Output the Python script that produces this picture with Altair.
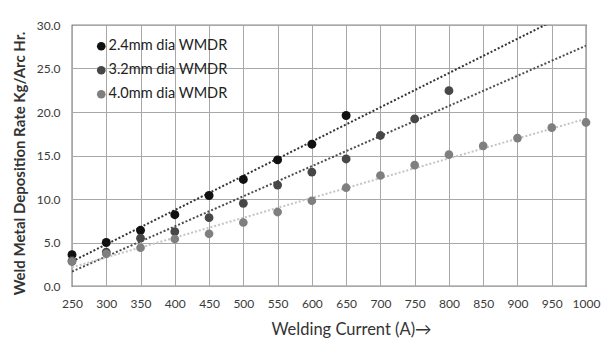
import altair as alt
import pandas as pd

currents_1 = [250, 300, 350, 400, 450, 500, 550, 600, 650]
rates_1 = [3.6, 5.0, 6.4, 8.2, 10.4, 12.25, 14.5, 16.3, 19.6]

currents_2 = [250, 300, 350, 400, 450, 500, 550, 600, 650, 700, 750, 800]
rates_2 = [2.9, 3.9, 5.5, 6.25, 7.85, 9.5, 11.6, 13.1, 14.6, 17.3, 19.2, 22.45]

currents_3 = [250, 300, 350, 400, 450, 500, 550, 600, 650, 700, 750, 800, 850, 900, 950, 1000]
rates_3 = [2.8, 3.7, 4.4, 5.4, 6.0, 7.3, 8.5, 9.8, 11.3, 12.7, 13.9, 15.1, 16.1, 17.0, 18.2, 18.8]

series_names = ["2.4mm dia WMDR", "3.2mm dia WMDR", "4.0mm dia WMDR"]
point_colors = ["#111111", "#474747", "#7f7f7f"]
point_sizes = [80, 75, 45]
trend_colors = ["#333333", "#4d4d4d", "#c4c4c4"]
x_ticks = list(range(250, 1001, 50))
y_ticks = [0, 5, 10, 15, 20, 25, 30]

rows = []
for name, xs, ys in zip(series_names, [currents_1, currents_2, currents_3], [rates_1, rates_2, rates_3]):
    for x, y in zip(xs, ys):
        rows.append({"series": name, "current": x, "rate": y})
df = pd.DataFrame(rows)

FONT = "Lato"
GRID = "#a8a8a8"

x_scale = alt.Scale(domain=[250, 1000], nice=False, zero=False)
y_scale = alt.Scale(domain=[0, 30], nice=False)

x_axis = alt.Axis(values=x_ticks, format="d", title="Welding Current (A)→",
                  ticks=False, labelPadding=12, titlePadding=12,
                  labelOverlap=False, labelFlush=False,
                  domain=False, grid=True, gridColor=GRID, gridOpacity=1,
                  labelFont=FONT, labelFontSize=12, labelColor="#3a3a3a",
                  titleFont=FONT, titleFontSize=16.5, titleFontWeight="normal",
                  titleColor="#333333", titleX=279)
y_axis = alt.Axis(values=y_ticks, format=".1f",
                  title="Weld Metal Deposition Rate Kg/Arc Hr.",
                  ticks=False, labelPadding=12, titlePadding=9,
                  domain=False, grid=True, gridColor=GRID, gridOpacity=1,
                  labelFont=FONT, labelFontSize=12, labelColor="#3a3a3a",
                  titleFont=FONT, titleFontSize=15, titleFontWeight="bold",
                  titleColor="#333333", titleY=138)

x_enc = alt.X("current:Q", scale=x_scale, axis=x_axis)
y_enc = alt.Y("rate:Q", scale=y_scale, axis=y_axis)

base = alt.Chart(df)

trend = base.transform_regression(
    "current", "rate", groupby=["series"], extent=[250, 1000]
).mark_line(clip=True, strokeDash=[2, 2], strokeWidth=2).encode(
    x=x_enc, y=y_enc,
    color=alt.Color("series:N", scale=alt.Scale(domain=series_names, range=trend_colors), legend=None),
)

points = base.mark_circle(opacity=1).encode(
    x=x_enc, y=y_enc,
    color=alt.Color("series:N",
                    scale=alt.Scale(domain=series_names, range=point_colors),
                    legend=alt.Legend(title=None, orient="none", legendX=22, legendY=14,
                                      labelFont=FONT, labelFontSize=14.5, labelColor="#222222",
                                      symbolType="circle", symbolSize=75, rowPadding=9,
                                      labelOffset=0, symbolStrokeWidth=0)),
    size=alt.Size("series:N", scale=alt.Scale(domain=series_names, range=point_sizes), legend=None),
)

chart = alt.layer(trend, points).resolve_scale(color="independent").properties(
    width=514, height=261,
    background="white",
    autosize=alt.AutoSizeParams(type="none"),
    padding={"left": 72, "top": 25, "right": 16, "bottom": 58},
).configure_view(stroke="#111111", strokeWidth=1.2)

chart.save("out.html", embed_options={"renderer": "svg", "actions": False})
